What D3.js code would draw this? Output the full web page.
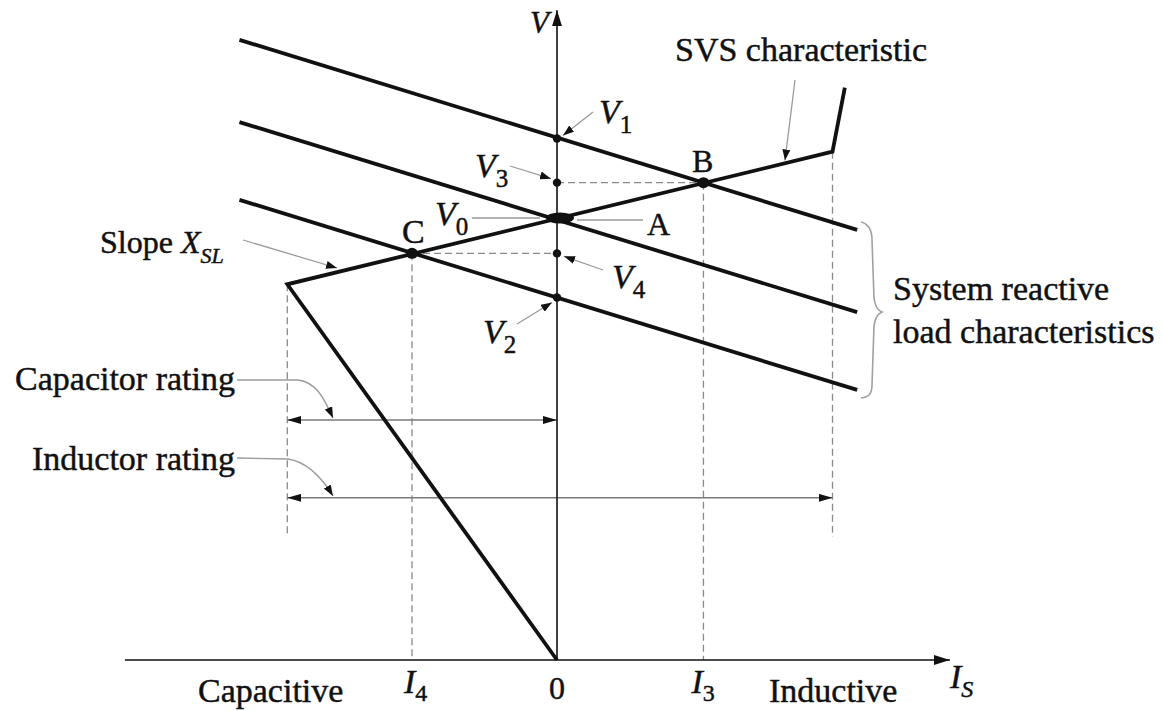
<!DOCTYPE html>
<html>
<head>
<meta charset="utf-8">
<script src="https://cdn.jsdelivr.net/npm/d3@7"></script>
<style>
  html, body { margin: 0; padding: 0; background: #ffffff; }
  svg { display: block; }
  text { font-family: "Liberation Serif", "Times New Roman", serif; fill: #111; stroke: #111; stroke-width: 0.45px; }
</style>
</head>
<body>
<svg id="chart" width="1163" height="711"></svg>
<script>
// ---- per-unit data (I in p.u. current, V in p.u. voltage) ----
// SVS characteristic: capacitive limit, linear control range, inductive limit
const svsControl = [[-1.86, 0.85], [1.90, 1.15], [1.985, 1.295]];
const svsCapacitiveBranch = [[0, 0], [-1.86, 0.85]];
// System reactive load lines (three system conditions)
const loadHigh = [[-2.19, 1.403], [2.07, 0.973]];
const loadNominal = [[-2.19, 1.217], [2.07, 0.787]];
const loadLow = [[-2.19, 1.041], [2.07, 0.611]];
// Voltages read on the V axis
const axisVoltages = [
  { name: "V1", v: 1.18 },
  { name: "V3", v: 1.08 },
  { name: "V4", v: 0.92 },
  { name: "V2", v: 0.82 }
];
// Operating points
const operatingPoints = [
  { name: "A", i: 0, v: 1.00 },
  { name: "B", i: 1.01, v: 1.08 },
  { name: "C", i: -1.00, v: 0.92 }
];
const currentLimits = { capacitive: -1.86, inductive: 1.90 };
const ratingLevels = { capacitor: 0.543, inductor: 0.367 };
const guideFloor = 0.278;
const axisExtent = { iMin: -2.98, iMax: 2.71, vMax: 1.47 };

// ---- scales ----
const x = d3.scaleLinear().domain([0, 1]).range([557, 702]);
const y = d3.scaleLinear().domain([0, 1]).range([660, 218]);

const svg = d3.select("#chart");
const defs = svg.append("defs");

function marker(id, len, half) {
  defs.append("marker")
    .attr("id", id)
    .attr("viewBox", `0 ${-half} ${len} ${2 * half}`)
    .attr("refX", len).attr("refY", 0)
    .attr("markerUnits", "userSpaceOnUse")
    .attr("markerWidth", len).attr("markerHeight", 2 * half)
    .attr("orient", "auto-start-reverse")
    .append("path")
    .attr("d", `M0,${-half}L${len},0L0,${half}Z`)
    .attr("fill", "#111");
}
marker("axisHead", 16, 5);
marker("dimHead", 14, 4);
marker("leadHead", 11, 4);

const line = d3.line().x(d => x(d[0])).y(d => y(d[1]));
const g = svg.append("g");

// ---- guide lines (dashed) ----
const guides = g.append("g")
  .attr("stroke", "#8a8a8a").attr("stroke-width", 1.3)
  .attr("stroke-dasharray", "7,4").attr("fill", "none");
const B = operatingPoints[1], C = operatingPoints[2];
guides.append("path").attr("d", line([[0, B.v], [B.i, B.v]]));
guides.append("path").attr("d", line([[C.i, C.v], [0, C.v]]));
guides.append("path").attr("d", line([[B.i, B.v], [B.i, 0]]));
guides.append("path").attr("d", line([[C.i, C.v], [C.i, 0]]));
guides.append("path").attr("d", line([[currentLimits.capacitive, svsControl[0][1]], [currentLimits.capacitive, guideFloor]]));
guides.append("path").attr("d", line([[currentLimits.inductive, svsControl[1][1]], [currentLimits.inductive, guideFloor]]));

// ---- rating dimension arrows ----
const dims = g.append("g").attr("stroke", "#7a7a7a").attr("stroke-width", 1.6).attr("fill", "none");
dims.append("path")
  .attr("d", line([[currentLimits.capacitive, ratingLevels.capacitor], [0, ratingLevels.capacitor]]))
  .attr("marker-start", "url(#dimHead)").attr("marker-end", "url(#dimHead)");
dims.append("path")
  .attr("d", line([[currentLimits.capacitive, ratingLevels.inductor], [currentLimits.inductive, ratingLevels.inductor]]))
  .attr("marker-start", "url(#dimHead)").attr("marker-end", "url(#dimHead)");

// ---- axes ----
const axes = g.append("g").attr("stroke", "#111").attr("stroke-width", 1.6).attr("fill", "none");
axes.append("path").attr("d", line([[0, 0], [0, axisExtent.vMax]])).attr("marker-end", "url(#axisHead)");
axes.append("path").attr("d", line([[axisExtent.iMin, 0], [axisExtent.iMax, 0]])).attr("marker-end", "url(#axisHead)");

// ---- load lines and SVS characteristic ----
const heavy = g.append("g").attr("stroke", "#111").attr("stroke-width", 3.8)
  .attr("fill", "none").attr("stroke-linejoin", "miter");
[loadHigh, loadNominal, loadLow].forEach(d => heavy.append("path").attr("d", line(d)));
heavy.append("path").attr("d", line(svsCapacitiveBranch.concat(svsControl.slice(1))));

// ---- points ----
g.append("g").selectAll("circle").data(axisVoltages).join("circle")
  .attr("cx", x(0)).attr("cy", d => y(d.v)).attr("r", 4.2).attr("fill", "#111");
g.append("g").selectAll("ellipse").data(operatingPoints).join("ellipse")
  .attr("cx", d => x(d.i) + (d.name === "A" ? 3 : 0)).attr("cy", d => y(d.v))
  .attr("rx", d => d.name === "A" ? 14 : 6).attr("ry", 5.5)
  .attr("fill", "#111");

// ---- leader lines ----
const leads = g.append("g").attr("stroke", "#9a9a9a").attr("stroke-width", 1.3).attr("fill", "none");
function lead(d, head) {
  const p = leads.append("path").attr("d", d);
  if (head) p.attr("marker-end", "url(#leadHead)");
}
lead(`M593,112L${x(0) + 6},${y(1.18) - 3}`, true);           // V1
lead(`M510,166L${x(0) - 6},${y(1.08) - 4}`, true);           // V3
lead(`M472,218L540,218`, false);                              // V0
lead(`M577,220L643,220`, false);                              // A
lead(`M603,270L${x(0) + 7},${y(0.92) + 3}`, true);           // V4
lead(`M517,324L${x(0) - 5},${y(0.82) + 5}`, true);           // V2
lead(`M795,80L785,${y(1 + 0.08 * 1.57) - 2}`, true);          // SVS characteristic
lead(`M243,240L337,268`, true);                               // slope
lead(`M237,380L298,380C316,382 324,398 333,418`, true);      // capacitor rating
lead(`M237,458L288,459C308,462 322,478 333,496`, true);      // inductor rating

// brace grouping the load lines
g.append("path")
  .attr("d", "M861,222C869,224 872,230 872,240L874,298C875,306 877,310 882,312C877,314 875,318 874,326L872,385C872,394 869,397 861,398")
  .attr("stroke", "#a0a0a0").attr("stroke-width", 1.6).attr("fill", "none");

// ---- text ----
const T = svg.append("g");
function label(xp, yp, parts, size, anchor) {
  const t = T.append("text").attr("x", xp).attr("y", yp)
    .attr("font-size", size).attr("text-anchor", anchor || "start");
  parts.forEach(p => {
    const s = t.append("tspan").text(p.t);
    if (p.italic) s.attr("font-style", "italic");
    if (p.size) s.attr("font-size", p.size);
    if (p.dy) s.attr("dy", p.dy);
  });
  return t;
}
const sub = (t) => ({ t, size: 25, dy: 10 });

label(530, 33, [{ t: "V", italic: true }], 31);
label(599, 123, [{ t: "V", italic: true }, sub("1")], 34);
label(475, 177, [{ t: "V", italic: true }, sub("3")], 34);
label(435, 225, [{ t: "V", italic: true }, sub("0")], 34);
label(612, 288, [{ t: "V", italic: true }, sub("4")], 34);
label(483, 343, [{ t: "V", italic: true }, sub("2")], 34);
label(402, 243, [{ t: "C" }], 34);
label(647, 235, [{ t: "A" }], 32);
label(692, 172, [{ t: "B" }], 32);
label(100, 253, [{ t: "Slope " }, { t: "X", italic: true }, { t: "SL", italic: true, size: 22, dy: 10 }], 32);
label(675, 61, [{ t: "SVS characteristic" }], 34);
label(893, 300, [{ t: "System reactive" }], 34);
label(893, 343, [{ t: "load characteristics" }], 34);
label(235, 390, [{ t: "Capacitor rating" }], 34, "end");
label(235, 470, [{ t: "Inductor rating" }], 34, "end");
label(198, 702, [{ t: "Capacitive" }], 34);
label(769, 702, [{ t: "Inductive" }], 34);
label(x(0), 699, [{ t: "0" }], 32, "middle");
label(x(C.i) - 8, 693, [{ t: "I", italic: true }, { t: "4", size: 24, dy: 8 }], 34);
label(x(B.i) - 12, 693, [{ t: "I", italic: true }, { t: "3", size: 24, dy: 8 }], 34);
label(950, 688, [{ t: "I", italic: true }, { t: "S", italic: true, size: 24, dy: 9 }], 34);
</script>
</body>
</html>
